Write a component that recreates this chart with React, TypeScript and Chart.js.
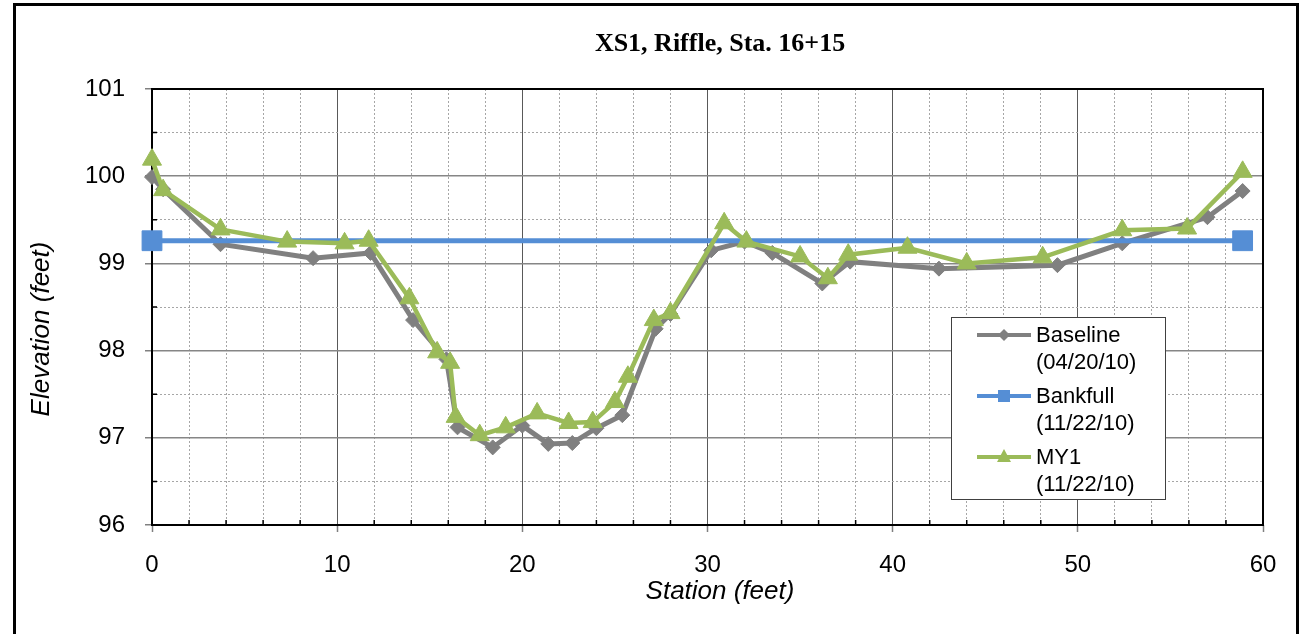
import React, { useEffect, useRef } from 'react';
import { Chart, registerables } from 'chart.js';

Chart.register(...registerables);

// ---- Data ----
const baselineStation = [0, 0.6, 3.7, 8.7, 11.8, 14.1, 15.9, 16.5, 18.4, 20.0, 21.4, 22.7, 24.0, 25.4, 27.2, 28.0, 30.2, 32.0, 33.5, 36.2, 37.7, 42.5, 48.9, 52.4, 57.0, 58.9];
const baselineElev = [99.99, 99.85, 99.22, 99.06, 99.12, 98.35, 97.9, 97.12, 96.89, 97.14, 96.93, 96.94, 97.11, 97.26, 98.25, 98.42, 99.15, 99.25, 99.12, 98.77, 99.02, 98.94, 98.98, 99.23, 99.53, 99.83];

const bankfullStation = [0, 58.9];
const bankfullElev = [99.26, 99.26];

const my1Station = [0, 0.6, 3.7, 7.3, 10.4, 11.7, 13.9, 15.4, 16.1, 16.4, 17.7, 19.1, 20.8, 22.5, 23.8, 25.0, 25.7, 27.1, 28.0, 30.9, 32.1, 35.0, 36.5, 37.6, 40.8, 44.0, 48.1, 52.4, 55.9, 58.9];
const my1Elev = [100.19, 99.84, 99.39, 99.25, 99.23, 99.26, 98.6, 97.98, 97.86, 97.24, 97.03, 97.12, 97.28, 97.17, 97.18, 97.41, 97.7, 98.35, 98.43, 99.46, 99.25, 99.08, 98.83, 99.1, 99.18, 99.0, 99.07, 99.38, 99.4, 100.05];

const legendLabels = [
  ['Baseline', '(04/20/10)'],
  ['Bankfull', '(11/22/10)'],
  ['MY1', '(11/22/10)'],
];

const chartTitle = 'XS1, Riffle, Sta. 16+15';
const xTitle = 'Station (feet)';
const yTitle = 'Elevation (feet)';

const GRAY = '#808080';
const BLUE = '#558ed5';
const GREEN = '#9bbb59';
const SANS = '"Liberation Sans", Arial, sans-serif';
const SERIF = '"Liberation Serif", "Times New Roman", serif';

const toPoints = (xs: number[], ys: number[]) => xs.map((x, i) => ({ x, y: ys[i] }));

const isMajorX = (v: number) => Math.abs(v % 10) < 1e-6;
const isMajorY = (v: number) => Math.abs(v - Math.round(v)) < 1e-6;

function drawMarker(ctx: CanvasRenderingContext2D, style: string, x: number, y: number, color: string) {
  ctx.save();
  ctx.fillStyle = color;
  ctx.beginPath();
  if (style === 'diamond') {
    const r = 6;
    ctx.moveTo(x, y - r);
    ctx.lineTo(x + r, y);
    ctx.lineTo(x, y + r);
    ctx.lineTo(x - r, y);
    ctx.closePath();
  } else if (style === 'square') {
    ctx.rect(x - 6, y - 6, 12, 12);
  } else {
    ctx.moveTo(x, y - 8);
    ctx.lineTo(x + 7, y + 5);
    ctx.lineTo(x - 7, y + 5);
    ctx.closePath();
  }
  ctx.fill();
  ctx.restore();
}

const decorPlugin = {
  id: 'decor',
  beforeDatasetsDraw(chart: any) {
    const { ctx, chartArea: a } = chart;
    const xs = chart.scales.x;
    const ys = chart.scales.y;
    ctx.save();
    ctx.strokeStyle = '#000';
    ctx.lineWidth = 1.5;
    ctx.beginPath();
    for (const t of xs.ticks) {
      if (!isMajorX(t.value)) {
        const px = xs.getPixelForValue(t.value);
        ctx.moveTo(px, a.bottom);
        ctx.lineTo(px, a.bottom - 5);
      }
    }
    for (const t of ys.ticks) {
      if (!isMajorY(t.value)) {
        const py = ys.getPixelForValue(t.value);
        ctx.moveTo(a.left, py);
        ctx.lineTo(a.left + 5, py);
      }
    }
    ctx.stroke();
    ctx.lineWidth = 2;
    ctx.strokeRect(a.left, a.top, a.right - a.left, a.bottom - a.top);
    ctx.restore();
  },
  afterDraw(chart: any) {
    const { ctx } = chart;
    ctx.save();
    // outer frame
    ctx.strokeStyle = '#000';
    ctx.lineWidth = 3;
    ctx.strokeRect(14.5, 4.5, 1283, 700);

    // title
    ctx.fillStyle = '#000';
    ctx.textAlign = 'center';
    ctx.textBaseline = 'middle';
    ctx.font = `bold 26px ${SERIF}`;
    ctx.fillText(chartTitle, 720, 44);

    // axis titles
    ctx.font = `italic 26px ${SANS}`;
    ctx.fillText(xTitle, 720, 592);
    ctx.save();
    ctx.translate(42, 329);
    ctx.rotate(-Math.PI / 2);
    ctx.fillText(yTitle, 0, 0);
    ctx.restore();

    // legend
    const lx = 951, ly = 317, lw = 214, lh = 182;
    ctx.fillStyle = '#fff';
    ctx.fillRect(lx, ly, lw, lh);
    ctx.strokeStyle = '#404040';
    ctx.lineWidth = 1;
    ctx.strokeRect(lx + 0.5, ly + 0.5, lw, lh);
    const colors = [GRAY, BLUE, GREEN];
    const styles = ['diamond', 'square', 'triangle'];
    const rowY = [335, 396, 457];
    ctx.font = `22px ${SANS}`;
    ctx.textAlign = 'left';
    ctx.textBaseline = 'middle';
    legendLabels.forEach((lines, i) => {
      const y = rowY[i];
      ctx.strokeStyle = colors[i];
      ctx.lineWidth = 4;
      ctx.beginPath();
      ctx.moveTo(977, y);
      ctx.lineTo(1031, y);
      ctx.stroke();
      drawMarker(ctx, styles[i], 1004, y, colors[i]);
      ctx.fillStyle = '#000';
      ctx.fillText(lines[0], 1036, y + 1);
      ctx.fillText(lines[1], 1036, y + 28);
    });
    ctx.restore();
  },
};

export default function App() {
  const ref = useRef<HTMLCanvasElement>(null);
  useEffect(() => {
    const canvas = ref.current;
    if (!canvas) return;
    const chart = new Chart(canvas, {
      type: 'line',
      data: {
        datasets: [
          {
            label: 'Baseline (04/20/10)',
            data: toPoints(baselineStation, baselineElev),
            borderColor: GRAY,
            backgroundColor: GRAY,
            borderWidth: 5,
            pointStyle: 'rectRot',
            pointRadius: 7.5,
            pointBorderWidth: 1,
            pointBorderColor: GRAY,
            pointBackgroundColor: GRAY,
            order: 3,
            clip: false,
          } as any,
          {
            label: 'Bankfull (11/22/10)',
            data: toPoints(bankfullStation, bankfullElev),
            borderColor: BLUE,
            backgroundColor: BLUE,
            borderWidth: 5,
            pointStyle: 'rect',
            pointRadius: 14,
            pointBorderWidth: 1,
            pointBorderColor: BLUE,
            pointBackgroundColor: BLUE,
            order: 2,
            clip: false,
          } as any,
          {
            label: 'MY1 (11/22/10)',
            data: toPoints(my1Station, my1Elev),
            borderColor: GREEN,
            backgroundColor: GREEN,
            borderWidth: 4.5,
            pointStyle: 'triangle',
            pointRadius: 11,
            pointBorderWidth: 1,
            pointBorderColor: GREEN,
            pointBackgroundColor: GREEN,
            order: 1,
            clip: false,
          } as any,
        ],
      },
      options: {
        animation: false,
        responsive: false,
        maintainAspectRatio: false,
        layout: { padding: { top: 89, right: 42, bottom: 0, left: 0 } },
        plugins: {
          legend: { display: false },
          title: { display: false },
          tooltip: { enabled: false },
        },
        elements: { line: { tension: 0 } },
        scales: {
          x: {
            type: 'linear',
            min: 0,
            max: 60,
            ticks: {
              stepSize: 2,
              autoSkip: false,
              maxRotation: 0,
              padding: 19,
              color: '#000',
              font: { family: SANS, size: 24 },
              callback: (v: any) => (isMajorX(Number(v)) ? String(v) : ''),
            },
            grid: {
              color: (c: any) => (c.tick && isMajorX(c.tick.value) ? '#595959' : '#a6a6a6'),
              lineWidth: 1,
              tickLength: 7,
              tickWidth: 1.5,
              tickColor: (c: any) => (c.tick && isMajorX(c.tick.value) ? '#808080' : 'rgba(0,0,0,0)'),
            },
            border: {
              display: false,
              dash: (c: any) => (c.tick && !isMajorX(c.tick.value) ? [2, 2] : []),
            },
            afterFit: (s: any) => {
              s.height = 109;
              s.paddingLeft = 0;
              s.paddingRight = 0;
            },
          },
          y: {
            type: 'linear',
            min: 96,
            max: 101,
            ticks: {
              stepSize: 0.5,
              autoSkip: false,
              padding: 20,
              color: '#000',
              font: { family: SANS, size: 24 },
              callback: (v: any) => (isMajorY(Number(v)) ? String(v) : ''),
            },
            grid: {
              color: (c: any) => (c.tick && isMajorY(c.tick.value) ? '#868686' : '#a6a6a6'),
              lineWidth: (c: any) => (c.tick && isMajorY(c.tick.value) ? 1.5 : 1),
              tickLength: 7,
              tickWidth: 1.5,
              tickColor: (c: any) => (c.tick && isMajorY(c.tick.value) ? '#808080' : 'rgba(0,0,0,0)'),
            },
            border: {
              display: false,
              dash: (c: any) => (c.tick && !isMajorY(c.tick.value) ? [2, 2] : []),
            },
            afterFit: (s: any) => {
              s.width = 152;
              s.paddingTop = 0;
              s.paddingBottom = 0;
            },
          },
        },
      } as any,
      plugins: [decorPlugin],
    });
    return () => chart.destroy();
  }, []);

  return (
    <div style={{ position: 'absolute', left: 0, top: 0, width: 1305, height: 634, background: '#fff' }}>
      <canvas ref={ref} width={1305} height={634} style={{ display: 'block', width: 1305, height: 634 }} />
    </div>
  );
}
